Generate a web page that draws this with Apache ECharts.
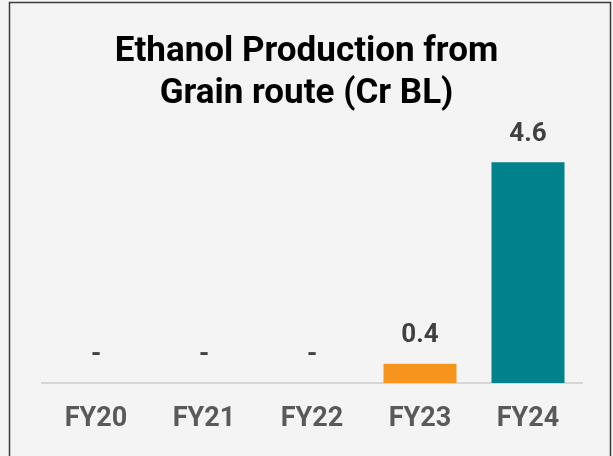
<!DOCTYPE html>
<html>
<head>
<meta charset="utf-8">
<script src="https://cdn.jsdelivr.net/npm/echarts@6/dist/echarts.min.js"></script>
<style>
  html, body { margin: 0; padding: 0; background: #f3f4f3; }
  #chart { width: 613px; height: 456px; }
</style>
</head>
<body>
<div id="chart"></div>
<script>
const categories = ['FY20', 'FY21', 'FY22', 'FY23', 'FY24']
const production = [0, 0, 0, 0.4, 4.6]
const barColors = ['#f7941d', '#f7941d', '#f7941d', '#f7941d', '#00818c']

const chart = echarts.init(document.getElementById('chart'))

const options = {
  backgroundColor: '#f3f4f3',
  title: {
    text: 'Ethanol Production from\nGrain route (Cr BL)',
    left: 'center',
    top: 26,
    textStyle: {
      fontFamily: 'Roboto',
      fontWeight: 'bold',
      fontSize: 35,
      lineHeight: 42,
      color: '#000000',
    },
  },
  graphic: [
    {
      type: 'rect',
      shape: { x: 9.5, y: 2.5, width: 601, height: 470 },
      style: { fill: 'none', stroke: '#3a3a3a', lineWidth: 1.5 },
      silent: true,
    },
  ],
  grid: {
    top: 143,
    left: 42,
    right: 31,
    bottom: 73,
  },
  xAxis: {
    type: 'category',
    data: categories,
    axisTick: { show: false },
    axisLine: {
      lineStyle: { color: '#d6d6d6', width: 2 },
    },
    axisLabel: {
      color: '#595959',
      fontFamily: 'Roboto',
      fontWeight: 'bold',
      fontSize: 27,
      margin: 23,
    },
  },
  yAxis: {
    type: 'value',
    min: 0,
    max: 5,
    show: false,
    splitLine: { show: false },
  },
  series: [
    {
      type: 'bar',
      data: production.map((v, i) => ({ value: v, itemStyle: { color: barColors[i] } })),
      barWidth: 73,
      label: {
        show: true,
        position: 'top',
        distance: 15,
        color: '#404040',
        fontFamily: 'Roboto',
        fontWeight: 'bold',
        fontSize: 26,
        formatter: (p) => (p.value === 0 ? '-' : p.value.toFixed(1)),
      },
    },
  ],
}

chart.setOption(options)
window.addEventListener('resize', function () {
  chart && chart.resize()
})
</script>
</body>
</html>
